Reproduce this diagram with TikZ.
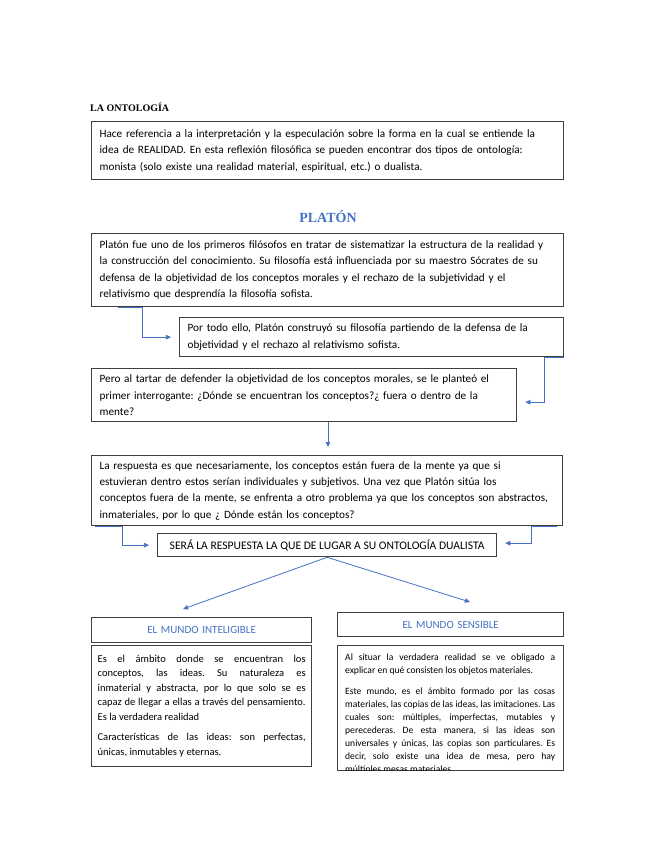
\documentclass[tikz,border=0pt]{standalone}
\usepackage{fontspec}
\setmainfont{Carlito}
\newfontfamily\headfont{Liberation Serif}
\usetikzlibrary{arrows.meta}
\definecolor{lcol}{HTML}{4472C4}
\definecolor{bcol}{HTML}{3F3F3F}
\frenchspacing

\begin{document}
\begin{tikzpicture}[x=1pt, y=-1pt, >={Triangle[length=1.8mm,width=1.6mm]},
  textbox/.style={draw=bcol, line width=1.3pt, anchor=north west, align=left,
    inner xsep=8pt, inner ysep=0pt, font=\fontsize{11.2}{16.4}\selectfont},
  worldbox/.style={textbox, align=center, text=lcol, font=\fontsize{11}{13}\selectfont},
  link/.style={->, lcol, line width=0.8pt, shorten >=8pt}]
\fill[white] (0,0) rectangle (655,848);

% ontologia
\node[anchor=west, inner sep=0pt, font=\headfont\bfseries\fontsize{10}{12}\selectfont] (ontotitle) at (90,107) {LA ONTOLOGÍA};
\node[textbox, text width=456, minimum height=58] (ontobox) at (91,121)
  {Hace referencia a la interpretación y la especulación sobre la forma en la cual se entiende la\\
   idea de REALIDAD. En esta reflexión filosófica se pueden encontrar dos tipos de ontología:\\
   monista (solo existe una realidad material, espiritual, etc.) o dualista.};

% platon
\node[text=lcol, inner sep=0pt, font=\headfont\bfseries\fontsize{14}{16}\selectfont] (platontitle) at (328,217) {PLATÓN};
\node[textbox, text width=456, minimum height=73] (platbox) at (91,233)
  {Platón fue uno de los primeros filósofos en tratar de sistematizar la estructura de la realidad y\\
   la construcción del conocimiento. Su filosofía está influenciada por su maestro Sócrates de su\\
   defensa de la objetividad de los conceptos morales y el rechazo de la subjetividad y el\\
   relativismo que desprendía la filosofía sofista.};
\node[textbox, text width=368, minimum height=39] (buildbox) at (179,317)
  {Por todo ello, Platón construyó su filosofía partiendo de la defensa de la\\
   objetividad y el rechazo al relativismo sofista.};
\node[textbox, text width=409, minimum height=53] (askbox) at (91,368)
  {Pero al tartar de defender la objetividad de los conceptos morales, se le planteó el\\
   primer interrogante: ¿Dónde se encuentran los conceptos?¿ fuera o dentro de la\\
   mente?};
\node[textbox, text width=455, minimum height=70] (answerbox) at (91,455)
  {La respuesta es que necesariamente, los conceptos están fuera de la mente ya que si\\
   estuvieran dentro estos serían individuales y subjetivos. Una vez que Platón sitúa los\\
   conceptos fuera de la mente, se enfrenta a otro problema ya que los conceptos son abstractos,\\
   inmateriales, por lo que ¿ Dónde están los conceptos?};
\node[textbox, align=center, minimum width=339, minimum height=23,
  font=\fontsize{11.6}{14}\selectfont] (dualbox) at (157,533)
  {SERÁ LA RESPUESTA LA QUE DE LUGAR A SU ONTOLOGÍA DUALISTA};

% los dos mundos
\node[worldbox, text width=204, minimum height=25] (intelbox) at (91,617) {EL MUNDO INTELIGIBLE};
\node[worldbox, text width=210, minimum height=24] (sensbox) at (337,612) {EL MUNDO SENSIBLE};
\node[textbox, text width=208, inner xsep=6pt, minimum height=121, align=justify,
  font=\fontsize{10.5}{14.5}\selectfont] (inteldesc) at (91,645)
  {Es el ámbito donde se encuentran los\linebreak
   conceptos, las ideas. Su naturaleza es\linebreak
   inmaterial y abstracta, por lo que solo se es\linebreak
   capaz de llegar a ellas a través del pensamiento.\linebreak
   Es la verdadera realidad\par\vspace{6pt}
   Características de las ideas: son perfectas,\linebreak
   únicas, inmutables y eternas.};
\node[textbox, text width=210, minimum height=125] (sensdesc) at (337,645) {};
\begin{scope}
\clip ([yshift=-0.6pt]sensdesc.north west) rectangle ([yshift=0.6pt]sensdesc.south east);
\node[anchor=north west, inner sep=0pt, text width=210, align=justify,
  font=\fontsize{9.6}{13}\selectfont] (senstext) at ([xshift=8pt,yshift=-9pt]sensdesc.north west)
  {Al situar la verdadera realidad se ve obligado a\linebreak
   explicar en qué consisten los objetos materiales.\par\vspace{8pt}
   Este mundo, es el ámbito formado por las cosas\linebreak
   materiales, las copias de las ideas, las imitaciones. Las\linebreak
   cuales son: múltiples, imperfectas, mutables y\linebreak
   perecederas. De esta manera, si las ideas son\linebreak
   universales y únicas, las copias son particulares. Es\linebreak
   decir, solo existe una idea de mesa, pero hay\linebreak
   múltiples mesas materiales.};
\end{scope}

% conectores
\draw[link] ([xshift=27pt]platbox.south west) -- ([xshift=51pt]platbox.south west) |- (buildbox.west);
\draw[link] (buildbox.south east) -- ([xshift=-20pt]buildbox.south east) |- ([yshift=-7pt]askbox.east);
\draw[link] (platontitle |- askbox.south) -- (platontitle |- answerbox.north);
\draw[link] ([xshift=4pt]answerbox.south west) -- ([xshift=31pt]answerbox.south west) |- (dualbox.west);
\draw[link] ([xshift=-6pt]answerbox.south east) -- ([xshift=-32pt]answerbox.south east) |- ([yshift=2pt]dualbox.east);
\coordinate (inteltip) at (183,609);
\coordinate (senstip) at (470,602);
\draw[link, shorten >=0pt] (dualbox.south) -- (inteltip);
\draw[link, shorten >=0pt] (dualbox.south) -- (senstip);
\end{tikzpicture}
\end{document}
